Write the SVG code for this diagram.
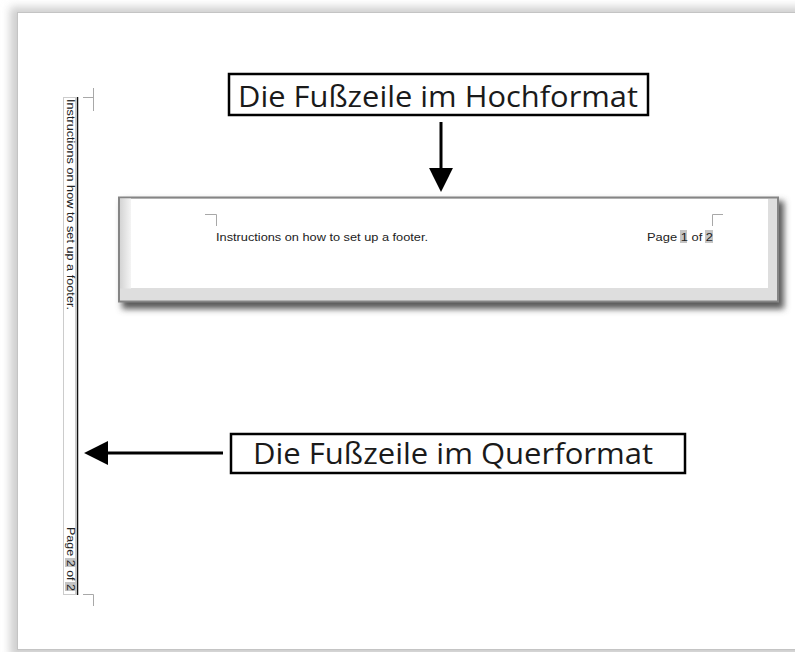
<svg xmlns="http://www.w3.org/2000/svg" width="795" height="652" viewBox="0 0 795 652">
  <defs>
    <style>
      .label-box { fill: #ffffff; stroke: #000000; stroke-width: 2.5; }
      .label-text { font-family: "Open Sans", "Noto Sans", sans-serif; font-size: 30px; fill: #1a1a1a; }
      .small { font-family: "Liberation Sans", Arial, sans-serif; font-size: 10px; fill: #222222; }
      .mark { fill: none; stroke: #a8a8a8; stroke-width: 1; }
      .hl { fill: #c4c4c4; }
      .conn { stroke: #000000; stroke-width: 3; fill: none; }
    </style>
    <marker id="arrow" markerUnits="userSpaceOnUse" markerWidth="24" markerHeight="24" viewBox="0 0 22 22" refX="12" refY="11" orient="auto">
      <path d="M0,0 L22,11 L0,22 z" fill="#000000"/>
    </marker>
    <linearGradient id="leftBand" x1="0" y1="0" x2="1" y2="0">
      <stop offset="0" stop-color="#d4d4d4"/>
      <stop offset="1" stop-color="#f4f4f4"/>
    </linearGradient>
    <filter id="pageShadow" x="-5%" y="-5%" width="110%" height="110%">
      <feGaussianBlur stdDeviation="4"/>
    </filter>
    <filter id="panelShadow" x="-5%" y="-20%" width="110%" height="150%">
      <feGaussianBlur stdDeviation="3"/>
    </filter>
  </defs>

  <!-- background / page -->
  <rect x="0" y="0" width="795" height="652" fill="#ffffff"/>
  <rect x="10" y="7" width="800" height="650" fill="#cfcfcf" filter="url(#pageShadow)"/>
  <rect x="17.5" y="12.5" width="790" height="637" fill="#ffffff" stroke="#c4c4c4" stroke-width="1"/>

  <!-- portrait footer panel -->
  <g id="footer-portrait">
    <rect x="122" y="201" width="662" height="108" fill="#5a5a5a" filter="url(#panelShadow)"/>
    <rect x="119" y="197.5" width="659" height="104" fill="#dedede" stroke="#858585" stroke-width="2"/>
    <rect x="120" y="198.5" width="11" height="90" fill="url(#leftBand)"/>
    <rect x="131" y="199" width="637" height="89" fill="#ffffff"/>
    <path class="mark" d="M205,214.5 H216.5 V226"/>
    <path class="mark" d="M723,214.5 H712.5 V226"/>
    <text class="small" x="216" y="241" textLength="212" lengthAdjust="spacingAndGlyphs">Instructions on how to set up a footer.</text>
    <rect class="hl" x="680" y="230" width="7" height="13"/>
    <rect class="hl" x="705" y="230" width="8" height="13"/>
    <text class="small" x="647" y="241" textLength="66" lengthAdjust="spacingAndGlyphs">Page 1 of 2</text>
  </g>

  <!-- landscape footer (rotated) -->
  <g id="footer-landscape">
    <rect x="63.5" y="97.5" width="12" height="497" fill="none" stroke="#cccccc" stroke-width="1"/>
    <line x1="77.5" y1="97" x2="77.5" y2="595" stroke="#111111" stroke-width="1.5"/>
    <path class="mark" d="M83,97.5 H93.5 M93.5,88 V111"/>
    <path class="mark" d="M83,594.5 H93.5 V606"/>
    <text class="small" transform="translate(67,99) rotate(90)" x="0" y="0" textLength="211" lengthAdjust="spacingAndGlyphs">Instructions on how to set up a footer.</text>
    <rect class="hl" x="65" y="558" width="11" height="9"/>
    <rect class="hl" x="65" y="582" width="11" height="9"/>
    <text class="small" transform="translate(67,527) rotate(90)" x="0" y="0" textLength="64" lengthAdjust="spacingAndGlyphs">Page 2 of 2</text>
  </g>

  <!-- labels -->
  <g id="label-hochformat">
    <rect class="label-box" x="229" y="74" width="419" height="41"/>
    <text class="label-text" x="238" y="106.5" textLength="400" lengthAdjust="spacingAndGlyphs">Die Fußzeile im Hochformat</text>
  </g>
  <g id="label-querformat">
    <rect class="label-box" x="231" y="434" width="454" height="39"/>
    <text class="label-text" x="253" y="464" textLength="400" lengthAdjust="spacingAndGlyphs">Die Fußzeile im Querformat</text>
  </g>

  <!-- connectors -->
  <g id="connectors">
    <line class="conn" x1="441" y1="122" x2="441" y2="181" marker-end="url(#arrow)"/>
    <line class="conn" x1="223" y1="453" x2="95" y2="453" marker-end="url(#arrow)"/>
  </g>
</svg>
